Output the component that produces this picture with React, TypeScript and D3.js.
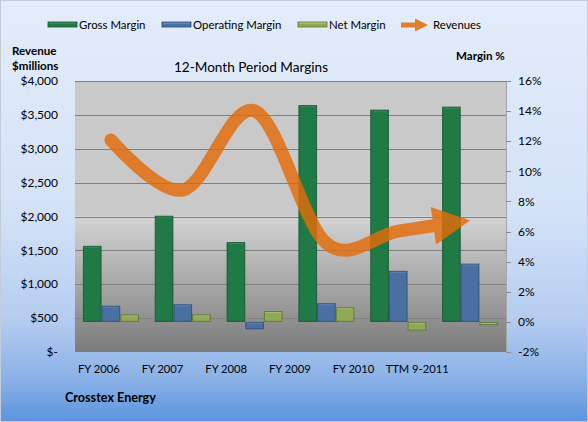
import React from "react";
import * as d3 from "d3";

const categories = ["FY 2006", "FY 2007", "FY 2008", "FY 2009", "FY 2010", "TTM 9-2011"];
const grossMargin = [5.05, 7.05, 5.3, 14.4, 14.1, 14.3];
const operatingMargin = [1.07, 1.17, -0.49, 1.24, 3.39, 3.87];
const netMargin = [0.49, 0.5, 0.72, 0.97, -0.58, -0.22];
const revenues = [3130, 2390, 3560, 1605, 1785, 1940];
const leftTicks = [0, 500, 1000, 1500, 2000, 2500, 3000, 3500, 4000];
const rightTicks = [-2, 0, 2, 4, 6, 8, 10, 12, 14, 16];

const W = 588;
const H = 422;
const FONT = "Lato, 'Open Sans', sans-serif";

const series = [
  { key: "Gross Margin", values: grossMargin, fill: "#1f7a46", stroke: "#11502c", hi: "#3a9262" },
  { key: "Operating Margin", values: operatingMargin, fill: "#4a6fa3", stroke: "#2b4a75", hi: "#6a8cbd" },
  { key: "Net Margin", values: netMargin, fill: "#8fa955", stroke: "#5c7430", hi: "#aac470" },
];
const ORANGE = "#e46c0a";

export default function App() {
  const px0 = 75, px1 = 506, py0 = 81, py1 = 352;
  const yL = d3.scaleLinear().domain([0, 4000]).range([py1, py0]);
  const yR = d3.scaleLinear().domain([-2, 16]).range([py1, py0]);
  const x = d3.scaleBand<string>().domain(categories).range([px0, px1]).paddingInner(0.22).paddingOuter(0.11);
  const xs = d3.scaleBand<string>().domain(series.map((s) => s.key)).range([0, x.bandwidth()]);
  const xLab = d3.scaleBand<string>().domain(categories).range([67, 449]);

  const pts: [number, number][] = categories.map((c, i) => [x(c)! + x.bandwidth() / 2, yL(revenues[i])]);
  const lineGen = d3.line().curve(d3.curveCardinal.tension(0));
  const d = lineGen(pts) || "";

  // path length estimate for trimming under the arrowhead
  let len = 0;
  if (typeof document !== "undefined") {
    const p = document.createElementNS("http://www.w3.org/2000/svg", "path");
    p.setAttribute("d", d);
    try { len = (p as any).getTotalLength(); } catch (e) { len = 0; }
  }
  if (!len) {
    for (let i = 1; i < pts.length; i++) len += Math.hypot(pts[i][0] - pts[i - 1][0], pts[i][1] - pts[i - 1][1]) * 1.1;
  }

  const fmt = (v: number) => (v === 0 ? "$-" : "$" + d3.format(",")(v));

  const legendItems = [
    { sx: 48, tx: 79, label: "Gross Margin", s: series[0] },
    { sx: 162, tx: 193, label: "Operating Margin", s: series[1] },
    { sx: 298, tx: 329, label: "Net Margin", s: series[2] },
  ];

  return (
    <svg width={W} height={H} style={{ position: "absolute", left: 0, top: 0, display: "block" }} fontFamily={FONT}>
      <defs>
        <linearGradient id="bgGrad" x1="0" y1="0" x2="0" y2="1">
          <stop offset="0" stopColor="#e3ecfa" />
          <stop offset="0.5" stopColor="#d4e2f7" />
          <stop offset="0.75" stopColor="#b6cdf0" />
          <stop offset="0.9" stopColor="#8ab1e7" />
          <stop offset="1" stopColor="#5b94dd" />
        </linearGradient>
        <linearGradient id="plotGrad" x1="0" y1="0" x2="0" y2="1">
          <stop offset="0" stopColor="#c9c9c9" />
          <stop offset="0.5" stopColor="#c9c9c9" />
          <stop offset="0.5" stopColor="#d3d3d3" />
          <stop offset="1" stopColor="#7b7b7b" />
        </linearGradient>
        <marker id="arrow" markerUnits="userSpaceOnUse" markerWidth="40" markerHeight="40" refX="37" refY="19" orient="auto" viewBox="0 0 40 40" style={{ overflow: "visible" }}>
          <path d="M0,0 L37,19 L0,38 Z" fill={ORANGE} />
        </marker>
        <marker id="arrowSmall" markerUnits="userSpaceOnUse" markerWidth="14" markerHeight="14" refX="13" refY="6.5" orient="auto" viewBox="0 0 14 14">
          <path d="M0,0 L13,6.5 L0,13 Z" fill={ORANGE} />
        </marker>
      </defs>

      <rect x={0.5} y={0.5} width={W - 1} height={H - 1} fill="url(#bgGrad)" stroke="#c3ccd8" />

      {/* legend */}
      {legendItems.map((it) => (
        <g key={it.label}>
          <rect x={it.sx} y={22} width={29} height={5} fill={it.s.fill} stroke={it.s.stroke} strokeWidth={0.8} />
          <rect x={it.sx + 1} y={22.6} width={27} height={1.2} fill={it.s.hi} />
          <text x={it.tx} y={29} fontSize={11.4} fill="#000">{it.label}</text>
        </g>
      ))}
      <g opacity={0.85}>
        <path d="M401,25 L428,25" stroke={ORANGE} strokeWidth={5} markerEnd="url(#arrowSmall)" strokeDasharray="20 40" />
      </g>
      <text x={433} y={29} fontSize={11.4} fill="#000">Revenues</text>

      {/* axis titles */}
      <text x={12} y={55} fontSize={11.6} fontWeight="bold" fill="#000">Revenue</text>
      <text x={12} y={70} fontSize={11.6} fontWeight="bold" fill="#000">$millions</text>
      <text x={456} y={60} fontSize={11.6} fontWeight="bold" fill="#000">Margin %</text>
      <text x={251} y={72} fontSize={13.6} textAnchor="middle" fill="#000">12-Month Period Margins</text>

      {/* plot area */}
      <rect x={px0} y={py0} width={px1 - px0} height={py1 - py0} fill="url(#plotGrad)" />
      {leftTicks.slice(1).map((t) => (
        <line key={t} x1={px0} x2={px1} y1={Math.round(yL(t)) + 0.5} y2={Math.round(yL(t)) + 0.5} stroke="#808080" strokeWidth={1} />
      ))}
      <line x1={px1 + 0.5} x2={px1 + 0.5} y1={py0} y2={py1} stroke="#a6a6a6" />
      {rightTicks.map((t) => (
        <line key={t} x1={px1} x2={px1 + 5} y1={Math.round(yR(t)) + 0.5} y2={Math.round(yR(t)) + 0.5} stroke="#8c8c8c" />
      ))}

      {/* bars */}
      {series.map((s) => (
        <g key={s.key}>
          {categories.map((c, i) => {
            const v = s.values[i];
            const bx = x(c)! + xs(s.key)!;
            const by = Math.min(yR(0), yR(v));
            const bh = Math.abs(yR(v) - yR(0));
            const bw = xs.bandwidth();
            return (
              <g key={c}>
                <rect x={bx + 0.5} y={by + 0.5} width={bw - 1} height={Math.max(bh - 1, 1)} fill={s.fill} stroke={s.stroke} strokeWidth={1} strokeOpacity={0.8} />
                <rect x={bx + 1.5} y={by + 1} width={bw - 3} height={1} fill={s.hi} opacity={0.7} />
              </g>
            );
          })}
        </g>
      ))}

      {/* revenue line */}
      <g opacity={0.82}>
        <path d={d} fill="none" stroke={ORANGE} strokeWidth={13} strokeLinecap="round" strokeDasharray={`${len - 30} ${len + 100}`} markerEnd="url(#arrow)" />
      </g>

      {/* left axis labels */}
      {leftTicks.map((t) => (
        <text key={t} x={58} y={yL(t)} dy="0.35em" fontSize={12} textAnchor="end" fill="#000">{fmt(t)}</text>
      ))}
      {/* right axis labels */}
      {rightTicks.map((t) => (
        <text key={t} x={518} y={yR(t)} dy="0.35em" fontSize={12} fill="#000">{t + "%"}</text>
      ))}
      {/* x labels */}
      {categories.map((c) => (
        <text key={c} x={xLab(c)! + xLab.bandwidth() / 2} y={373} fontSize={11.2} textAnchor="middle" fill="#000">{c}</text>
      ))}

      <text x={65} y={402} fontSize={12.6} fontWeight="bold" fill="#000">Crosstex Energy</text>
    </svg>
  );
}
